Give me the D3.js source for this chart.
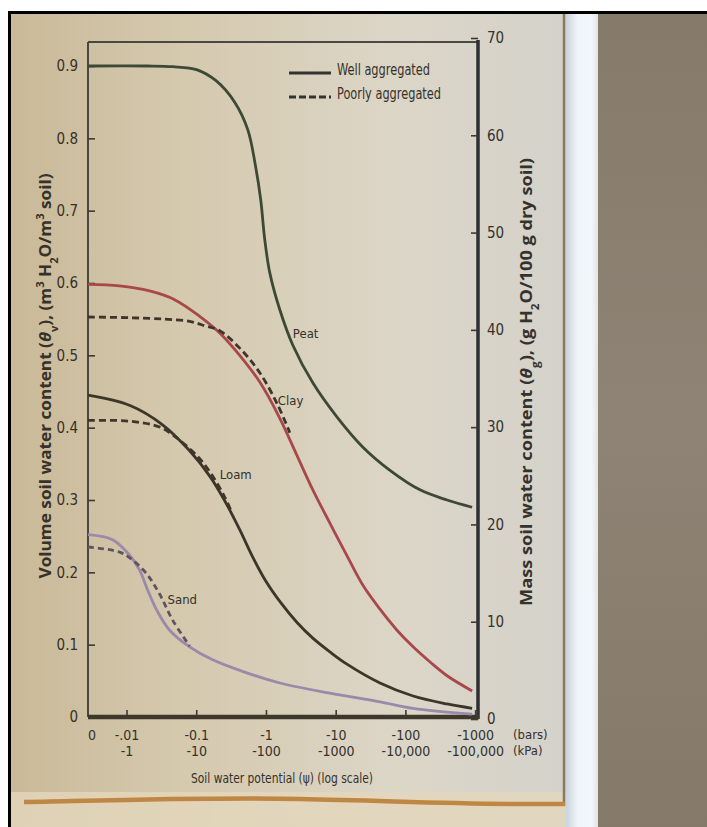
<!DOCTYPE html>
<html><head><meta charset="utf-8">
<script src="https://cdn.jsdelivr.net/npm/d3@7"></script>
<style>
body{margin:0;background:#fff;}
svg{display:block;}
text{font-family:"DejaVu Sans Condensed","Liberation Sans",sans-serif;fill:#35312b;}
.ttl{font-family:"Open Sans","DejaVu Sans",sans-serif;font-weight:bold;}
</style></head><body>
<svg id="c" width="707" height="827"></svg>
<script>
// ---------- data ----------
const psiDomain=[0.0028,1100];               // bars (magnitude); left end is the "0" point
const psiTicks=[0.01,0.1,1,10,100,1000];
const barsLabels=["-.01","-0.1","-1","-10","-100","-1000"];
const kpaLabels=["-1","-10","-100","-1000","-10,000","-100,000"];
const volTicks=[0,0.1,0.2,0.3,0.4,0.5,0.6,0.7,0.8,0.9];
const volLabels=["0","0.1","0.2","0.3","0.4","0.5","0.6","0.7","0.8","0.9"];
const massTicks=[0,10,20,30,40,50,60,70];

const peatPsi=[0.0028,0.0200,0.0458,0.101,0.196,0.356,0.548,0.713,0.841,0.961,1.135,1.58,2.43,4.70,10.4,24.6,60.1,162,396,906];
const peatWell=[0.900,0.900,0.899,0.895,0.879,0.850,0.812,0.760,0.715,0.660,0.614,0.563,0.514,0.462,0.415,0.373,0.341,0.314,0.300,0.290];

const clayPsi=[0.0028,0.00793,0.0214,0.0489,0.112,0.217,0.420,0.815,1.58,2.77,4.70,8.26,14.5,24.6,43.2,75.8,129,226,396,906];
const clayWell=[0.598,0.596,0.589,0.577,0.554,0.531,0.500,0.463,0.413,0.362,0.314,0.268,0.223,0.182,0.149,0.120,0.097,0.076,0.057,0.036];
const clayPoorPsi=[0.0028,0.0110,0.0352,0.0804,0.132,0.217,0.420,0.815,1.48,2.20];
const clayPoor=[0.553,0.552,0.550,0.547,0.541,0.534,0.510,0.476,0.431,0.393];

const loamPsi=[0.0028,0.0110,0.0329,0.0804,0.156,0.256,0.420,0.646,0.993,1.63,2.77,4.70,8.26,14.5,43.2,129,396,906];
const loamWell=[0.445,0.431,0.404,0.368,0.333,0.299,0.259,0.221,0.188,0.158,0.131,0.109,0.090,0.073,0.047,0.029,0.018,0.012];
const loamPoorPsi=[0.0028,0.0110,0.0298,0.0443,0.0681,0.112,0.172,0.256,0.323];
const loamPoor=[0.410,0.409,0.401,0.391,0.377,0.357,0.333,0.304,0.283];

const sandPsi=[0.0028,0.0063,0.0110,0.0154,0.0200,0.0270,0.0415,0.0804,0.172,0.530,1.58,8.26,43.2,129,906];
const sandWell=[0.252,0.245,0.224,0.203,0.176,0.148,0.120,0.097,0.079,0.061,0.047,0.033,0.021,0.012,0.004];
const sandPoorPsi=[0.0028,0.00793,0.0122,0.0194,0.0298,0.0458,0.0804];
const sandPoor=[0.235,0.228,0.217,0.198,0.170,0.134,0.098];

const seriesNames=["Peat","Clay","Loam","Sand"];
const labelPsi=[2.43,1.48,0.217,0.0388];
const labelTheta=[0.524,0.431,0.329,0.156];
const legendLabels=["Well aggregated","Poorly aggregated"];

// ---------- layout ----------
const svg=d3.select("#c");
const L=88,R=478,T=42,B=717;
const x=d3.scaleLog().domain(psiDomain).range([L,R]);
const yL=d3.scaleLinear().domain([0,0.9]).range([B,66]);
const yR=d3.scaleLinear().domain([0,70]).range([719,38]);

const defs=svg.append("defs");
const g1=defs.append("linearGradient").attr("id","page").attr("x1",0).attr("x2",1).attr("y1",0).attr("y2",0);
[[0,"#c9b998"],[0.25,"#d5c9ae"],[0.55,"#dcd6c7"],[0.85,"#d3d1cc"],[1,"#cecdc9"]].forEach(s=>g1.append("stop").attr("offset",s[0]).attr("stop-color",s[1]));
const g2=defs.append("linearGradient").attr("id","strip").attr("x1",0).attr("x2",1).attr("y1",0).attr("y2",0);
[[0,"#c9d3dc"],[0.35,"#eef4f8"],[0.8,"#f3f7fa"],[1,"#dfe4e6"]].forEach(s=>g2.append("stop").attr("offset",s[0]).attr("stop-color",s[1]));
const g3=defs.append("linearGradient").attr("id","bg").attr("x1",0).attr("x2",0).attr("y1",0).attr("y2",1);
[[0,"#867a6b"],[0.5,"#8e8374"],[1,"#85796a"]].forEach(s=>g3.append("stop").attr("offset",s[0]).attr("stop-color",s[1]));

// photo background
svg.append("rect").attr("x",0).attr("y",0).attr("width",707).attr("height",827).attr("fill","#fff");
svg.append("rect").attr("x",9).attr("y",12).attr("width",698).attr("height",815).attr("fill","url(#page)");
svg.append("rect").attr("x",9).attr("y",792).attr("width",558).attr("height",35).attr("fill","#e3d7bb").attr("opacity",0.8);
svg.append("rect").attr("x",566).attr("y",12).attr("width",32).attr("height",815).attr("fill","url(#strip)");
svg.append("rect").attr("x",598).attr("y",12).attr("width",109).attr("height",815).attr("fill","url(#bg)");
svg.append("line").attr("x1",564).attr("x2",564).attr("y1",12).attr("y2",806).attr("stroke","#8a7b5e").attr("stroke-width",2.5);
svg.append("path").attr("d","M24,802 C120,800 220,797 300,799 C400,801 480,805 565,804")
  .attr("fill","none").attr("stroke","#c08643").attr("stroke-width",4.5);
svg.append("path").attr("d","M9.5,827 V12.5 H707").attr("fill","none").attr("stroke","#000").attr("stroke-width",3);

// frame
svg.append("line").attr("x1",L).attr("x2",R).attr("y1",T).attr("y2",T).attr("stroke","#4a4842").attr("stroke-width",2);
svg.append("line").attr("x1",L).attr("x2",L).attr("y1",T).attr("y2",B).attr("stroke","#4a4842").attr("stroke-width",2);
svg.append("line").attr("x1",R).attr("x2",R).attr("y1",T-2).attr("y2",B+2).attr("stroke","#2c2f33").attr("stroke-width",3.5);
svg.append("line").attr("x1",L).attr("x2",R+1).attr("y1",B).attr("y2",B).attr("stroke","#3d372c").attr("stroke-width",4.5);

// axes
const ax=(sel)=>{sel.select(".domain").remove();sel.selectAll(".tick line").attr("stroke","#3d3a33").attr("stroke-width",1.6);sel.selectAll("text").attr("fill","#35312b").attr("font-family",null);};
svg.append("g").attr("transform",`translate(${L},0)`)
  .call(d3.axisLeft(yL).tickValues(volTicks).tickFormat((d,i)=>volLabels[i]).tickSize(-7).tickPadding(10))
  .call(ax).selectAll("text").style("font-size","15px");
svg.append("g").attr("transform",`translate(${R},0)`)
  .call(d3.axisRight(yR).tickValues(massTicks).tickSize(-7).tickPadding(9))
  .call(ax).selectAll("text").style("font-size","15px");
const bx=svg.append("g").attr("transform",`translate(0,${B})`)
  .call(d3.axisBottom(x).tickValues(psiTicks).tickFormat((d,i)=>barsLabels[i]).tickSize(-7).tickPadding(13))
  .call(ax);
bx.selectAll(".tick text").style("font-size","14px");
bx.selectAll(".tick").append("text").attr("y",29).attr("dy","0.71em").attr("text-anchor","middle")
  .style("font-size","14px").attr("fill","#35312b").text((d,i)=>kpaLabels[i]);
svg.append("text").attr("x",x(psiDomain[0])+4).attr("y",B+13).attr("dy","0.71em").attr("text-anchor","middle").style("font-size","14px").text("0");
svg.append("text").attr("x",513).attr("y",B+13).attr("dy","0.71em").style("font-size","13px").text("(bars)");
svg.append("text").attr("x",513).attr("y",B+29).attr("dy","0.71em").style("font-size","13px").text("(kPa)");
svg.append("text").attr("x",282).attr("y",783).attr("text-anchor","middle").style("font-size","14px")
  .attr("textLength",182).attr("lengthAdjust","spacingAndGlyphs").text("Soil water potential (ψ) (log scale)");

// axis titles
const lt=svg.append("text").attr("class","ttl").attr("transform","translate(51,376) rotate(-90)").attr("text-anchor","middle").style("font-size","15.5px")
  .attr("textLength",405).attr("lengthAdjust","spacingAndGlyphs");
lt.append("tspan").text("Volume soil water content (");
lt.append("tspan").attr("font-style","italic").text("θ");
lt.append("tspan").attr("baseline-shift","sub").style("font-size","10px").text("v");
lt.append("tspan").text("), (m");
lt.append("tspan").attr("baseline-shift","super").style("font-size","10px").text("3");
lt.append("tspan").text(" H");
lt.append("tspan").attr("baseline-shift","sub").style("font-size","10px").text("2");
lt.append("tspan").text("O/m");
lt.append("tspan").attr("baseline-shift","super").style("font-size","10px").text("3");
lt.append("tspan").text(" soil)");
const rt=svg.append("text").attr("class","ttl").attr("transform","translate(532,382) rotate(-90)").attr("text-anchor","middle").style("font-size","15.5px")
  .attr("textLength",448).attr("lengthAdjust","spacingAndGlyphs");
rt.append("tspan").text("Mass soil water content (");
rt.append("tspan").attr("font-style","italic").text("θ");
rt.append("tspan").attr("baseline-shift","sub").style("font-size","10px").text("g");
rt.append("tspan").text("), (g H");
rt.append("tspan").attr("baseline-shift","sub").style("font-size","10px").text("2");
rt.append("tspan").text("O/100 g dry soil)");

// curves
const line=d3.line().x(d=>x(d[0])).y(d=>yL(d[1])).curve(d3.curveCatmullRom.alpha(0.5));
const zip=(a,b)=>a.map((v,i)=>[v,b[i]]);
const curves=[
  {p:peatPsi,v:peatWell,c:"#3c4934",dash:null},
  {p:clayPsi,v:clayWell,c:"#a8484b",dash:null},
  {p:clayPoorPsi,v:clayPoor,c:"#3f362b",dash:"7,4"},
  {p:loamPsi,v:loamWell,c:"#3b3628",dash:null},
  {p:loamPoorPsi,v:loamPoor,c:"#3f362b",dash:"7,4"},
  {p:sandPsi,v:sandWell,c:"#9b89aa",dash:null},
  {p:sandPoorPsi,v:sandPoor,c:"#5e5560",dash:"6,4"}
];
curves.forEach(s=>{
  svg.append("path").attr("d",line(zip(s.p,s.v))).attr("fill","none").attr("stroke",s.c)
    .attr("stroke-width",2.8).attr("stroke-dasharray",s.dash);
});

// series labels
seriesNames.forEach((n,i)=>{
  svg.append("text").attr("x",x(labelPsi[i])).attr("y",yL(labelTheta[i])).style("font-size","13px").text(n);
});

// legend
const lg=svg.append("g");
lg.append("line").attr("x1",289).attr("x2",331).attr("y1",73).attr("y2",73).attr("stroke","#333").attr("stroke-width",2.8);
lg.append("line").attr("x1",289).attr("x2",331).attr("y1",97).attr("y2",97).attr("stroke","#333").attr("stroke-width",2.8).attr("stroke-dasharray","7,3");
lg.append("text").attr("x",337).attr("y",75).style("font-size","15px").attr("textLength",93).attr("lengthAdjust","spacingAndGlyphs").text(legendLabels[0]);
lg.append("text").attr("x",337).attr("y",99).style("font-size","15px").attr("textLength",104).attr("lengthAdjust","spacingAndGlyphs").text(legendLabels[1]);
</script>
</body></html>
